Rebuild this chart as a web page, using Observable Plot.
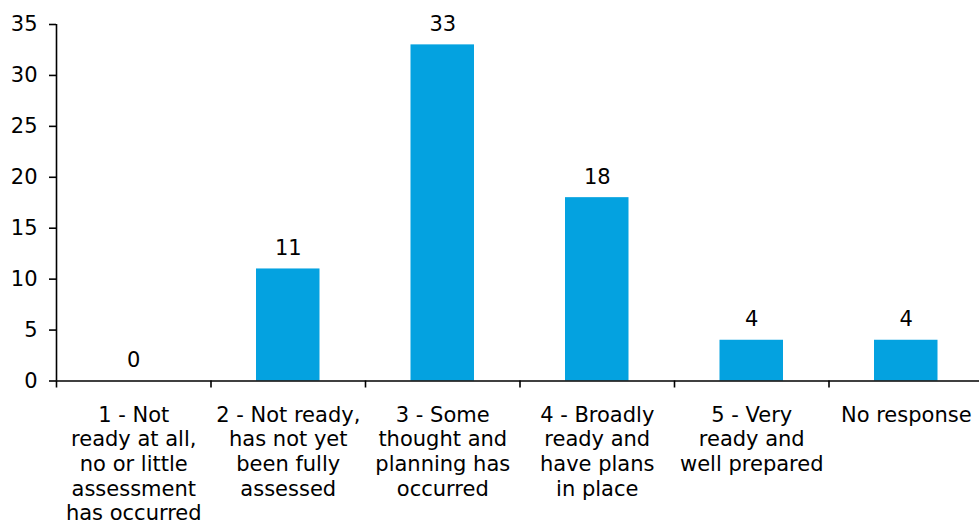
<!DOCTYPE html>
<html>
<head>
<meta charset="utf-8">
<script src="https://cdn.jsdelivr.net/npm/d3@7"></script>
<script src="https://cdn.jsdelivr.net/npm/@observablehq/plot@0.6"></script>
<style>
  html, body { margin: 0; padding: 0; background: #fff; }
  svg { display: block; }
</style>
</head>
<body>
<div id="chart"></div>
<script>
const categories = [
  "1 - Not\nready at all,\nno or little\nassessment\nhas occurred",
  "2 - Not ready,\nhas not yet\nbeen fully\nassessed",
  "3 - Some\nthought and\nplanning has\noccurred",
  "4 - Broadly\nready and\nhave plans\nin place",
  "5 - Very\nready and\nwell prepared",
  "No response"
];
const values = [0, 11, 33, 18, 4, 4];
const yTicks = [0, 5, 10, 15, 20, 25, 30, 35];

const data = categories.map((c, i) => ({ category: c, value: values[i], i }));
const boundaries = d3.range(categories.length);

const font = "DejaVu Sans, Verdana, sans-serif";
const color = "#04A2E0";

const chart = Plot.plot({
  width: 979,
  height: 524,
  marginTop: 24,
  marginBottom: 143.5,
  marginLeft: 56,
  marginRight: 0,
  style: { fontFamily: font, fontSize: "21px", color: "#000", background: "#fff", overflow: "visible" },
  x: { domain: [0, categories.length], range: [56, 983] },
  y: { domain: [0, 35] },
  marks: [
    Plot.rectY(data, { x1: "i", x2: d => d.i + 1, y: "value", fill: color, insetLeft: 45.5, insetRight: 45.5 }),
    Plot.axisY({ ticks: yTicks, tickSize: 7, tickPadding: 12, fontSize: 21, strokeWidth: 1.6, label: null }),
    Plot.axisX({ ticks: boundaries, tickSize: 7, tickFormat: () => "", strokeWidth: 1.6, label: null }),
    Plot.ruleX([0], { y1: 0, y2: 35, strokeWidth: 1.6 }),
    Plot.ruleY([0], { strokeWidth: 1.6 }),
    Plot.text(data, { x: d => d.i + 0.5, y: "value", text: d => String(d.value), dy: -20.5, lineAnchor: "middle", fontSize: 21, fill: "#000" }),
    Plot.text(data, { x: d => d.i + 0.5, y: 0, text: "category", dy: 23, lineAnchor: "top", lineHeight: 1.175, fontSize: 21, fill: "#000" })
  ]
});
document.getElementById("chart").appendChild(chart);
</script>
</body>
</html>
